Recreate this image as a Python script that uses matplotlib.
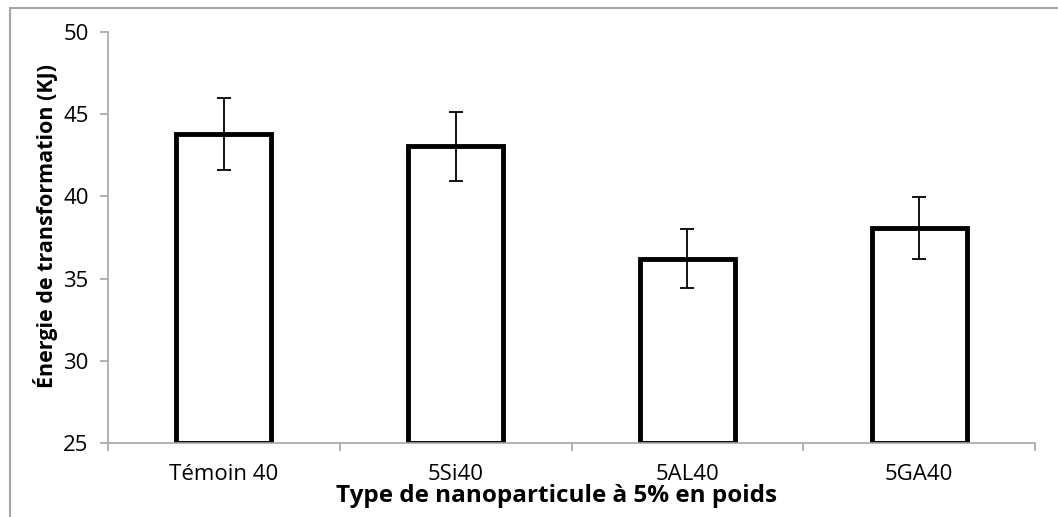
import matplotlib
matplotlib.use("Agg")
import matplotlib.pyplot as plt
from matplotlib.patches import Rectangle

# data
categories = ["Témoin 40", "5Si40", "5AL40", "5GA40"]
energie = [43.8, 43.05, 36.2, 38.07]
erreur = [2.2, 2.1, 1.8, 1.9]

plt.rcParams['font.family'] = ['Open Sans', 'DejaVu Sans']

fig = plt.figure(figsize=(10.58, 5.17), dpi=100)
ax = fig.add_axes([108 / 1058, 1 - 443 / 517, 927 / 1058, 411 / 517])

# outer chart frame
fig.patches.append(Rectangle((10 / 1058, -0.1), 1.2, (517 - 8) / 517 + 0.1,
                             transform=fig.transFigure, fill=False,
                             edgecolor="#a6a6a6", linewidth=1.5))

x = list(range(len(categories)))
ax.bar(x, [e - 25 for e in energie], bottom=25, width=0.41,
       color="white", edgecolor="black", linewidth=3.5, zorder=2)
ax.errorbar(x, energie, yerr=erreur, fmt="none", ecolor="black",
            elinewidth=1.3, capsize=5, capthick=1.3, zorder=3)

ax.set_xlim(-0.5, len(categories) - 0.5)
ax.set_ylim(25, 50)
ax.set_yticks([25, 30, 35, 40, 45, 50])
ax.set_xticks(x)
ax.set_xticklabels(categories)
ax.set_xticks([i + 0.5 for i in range(-1, len(categories))], minor=True)

for side in ["top", "right"]:
    ax.spines[side].set_visible(False)
for side in ["left", "bottom"]:
    ax.spines[side].set_color("#a6a6a6")
    ax.spines[side].set_linewidth(1.2)

ax.tick_params(axis="y", which="major", length=6, width=1.2, color="#a6a6a6",
               labelsize=16, pad=8)
ax.tick_params(axis="x", which="major", length=0, labelsize=16, pad=15)
ax.tick_params(axis="x", which="minor", length=6, width=1.2, color="#a6a6a6")

ax.set_ylabel("Énergie de transformation (KJ)", fontsize=15.5, fontweight="bold")
ax.yaxis.set_label_coords((58 - 108) / 927, (443 - 226) / 411)
ax.set_xlabel("Type de nanoparticule à 5% en poids", fontsize=17.5,
              fontweight="bold")
ax.xaxis.set_label_coords((556 - 108) / 927, (443 - 484) / 411)

fig.savefig("out.png", dpi=100)
